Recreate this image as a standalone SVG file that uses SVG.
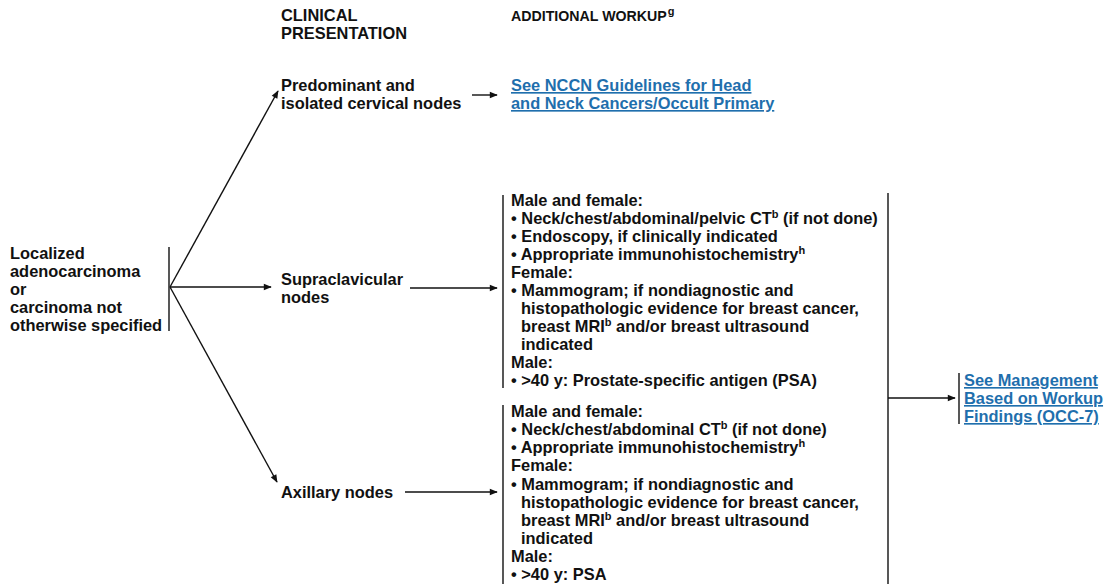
<svg xmlns="http://www.w3.org/2000/svg" width="1106" height="584" viewBox="0 0 1106 584">
<style>
text{font-family:"Liberation Sans",Arial,sans-serif;font-weight:bold;font-size:16.4px;fill:#111}
.lnk{fill:#1f6fad;text-decoration:underline}
.sup{font-size:11px}
line,path{stroke:#111;stroke-width:1.4;fill:none}
.arr{marker-end:url(#ah)}
</style>
<defs>
<marker id="ah" viewBox="0 0 10 10" refX="9" refY="5" markerWidth="9" markerHeight="8" markerUnits="userSpaceOnUse" orient="auto"><path d="M0,1 L10,5 L0,9 z" style="fill:#111;stroke:none"/></marker>
</defs>
<rect width="1106" height="584" fill="#fff"/>
<g id="headers">
<text x="281" y="21">CLINICAL</text>
<text x="281" y="39">PRESENTATION</text>
<text x="511" y="21" style="font-size:14.2px">ADDITIONAL WORKUP<tspan class="sup" dx="1" dy="-6">g</tspan></text>
</g>
<g id="node-start">
<text x="10" y="259">Localized</text>
<text x="10" y="277">adenocarcinoma</text>
<text x="10" y="295">or</text>
<text x="10" y="313">carcinoma not</text>
<text x="10" y="331">otherwise specified</text>
<line x1="169" y1="247" x2="169" y2="331"/>
</g>
<g id="node-cervical">
<text x="281" y="91">Predominant and</text>
<text x="281" y="109">isolated cervical nodes</text>
</g>
<g id="node-nccn">
<text class="lnk" x="511" y="91">See NCCN Guidelines for Head</text>
<text class="lnk" x="511" y="109">and Neck Cancers/Occult Primary</text>
</g>
<g id="node-supraclavicular">
<text x="281" y="285">Supraclavicular</text>
<text x="281" y="303">nodes</text>
</g>
<g id="node-axillary">
<text x="281" y="498">Axillary nodes</text>
</g>
<g id="node-workup-supra">
<line x1="503" y1="195" x2="503" y2="388"/>
<text x="511" y="206">Male and female:</text>
<text x="511" y="224">• Neck/chest/abdominal/pelvic CT<tspan class="sup" dy="-6">b</tspan><tspan dy="6"> (if not done)</tspan></text>
<text x="511" y="242">• Endoscopy, if clinically indicated</text>
<text x="511" y="260">• Appropriate immunohistochemistry<tspan class="sup" dy="-6">h</tspan></text>
<text x="511" y="278">Female:</text>
<text x="511" y="296">• Mammogram; if nondiagnostic and</text>
<text x="521" y="314">histopathologic evidence for breast cancer,</text>
<text x="521" y="332">breast MRI<tspan class="sup" dy="-6">b</tspan><tspan dy="6"> and/or breast ultrasound</tspan></text>
<text x="521" y="350">indicated</text>
<text x="511" y="368">Male:</text>
<text x="511" y="386">• &gt;40 y: Prostate-specific antigen (PSA)</text>
</g>
<g id="node-workup-axillary">
<line x1="503" y1="405" x2="503" y2="584"/>
<text x="511" y="417">Male and female:</text>
<text x="511" y="435">• Neck/chest/abdominal CT<tspan class="sup" dy="-6">b</tspan><tspan dy="6"> (if not done)</tspan></text>
<text x="511" y="453">• Appropriate immunohistochemistry<tspan class="sup" dy="-6">h</tspan></text>
<text x="511" y="471">Female:</text>
<text x="511" y="490">• Mammogram; if nondiagnostic and</text>
<text x="521" y="508">histopathologic evidence for breast cancer,</text>
<text x="521" y="526">breast MRI<tspan class="sup" dy="-6">b</tspan><tspan dy="6"> and/or breast ultrasound</tspan></text>
<text x="521" y="544">indicated</text>
<text x="511" y="562">Male:</text>
<text x="511" y="580">• &gt;40 y: PSA</text>
</g>
<g id="node-management">
<line x1="959" y1="373" x2="959" y2="424"/>
<text class="lnk" x="964" y="386">See Management</text>
<text class="lnk" x="964" y="404">Based on Workup</text>
<text class="lnk" x="964" y="422">Findings (OCC-7)</text>
</g>
<g id="connectors">
<line class="arr" x1="170" y1="287" x2="278" y2="91"/>
<line class="arr" x1="170" y1="287" x2="271" y2="287"/>
<line class="arr" x1="170" y1="287" x2="277" y2="482"/>
<line class="arr" x1="472" y1="95" x2="497" y2="95"/>
<line class="arr" x1="410" y1="288" x2="497" y2="288"/>
<line class="arr" x1="405" y1="492" x2="497" y2="492"/>
<line x1="888" y1="193" x2="888" y2="584"/>
<line class="arr" x1="888" y1="398" x2="955" y2="398"/>
</g>
</svg>
